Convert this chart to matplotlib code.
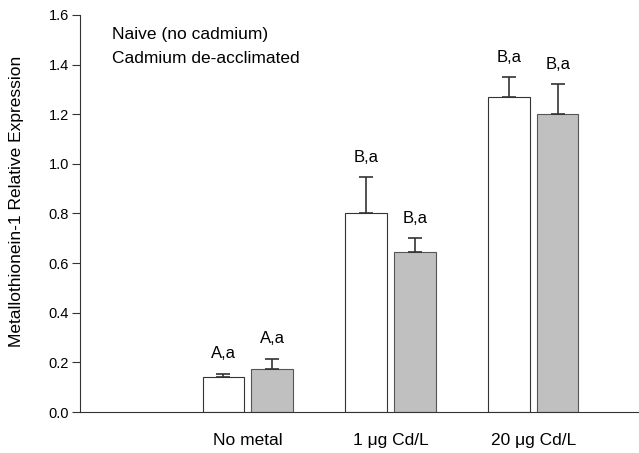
import matplotlib.pyplot as plt
import numpy as np

plt.rcParams['font.family'] = ['Liberation Sans', 'DejaVu Sans']

groups = ['No metal', '1 \u03bcg Cd/L', '20 \u03bcg Cd/L']
naive = [0.14, 0.80, 1.27]
naive_err = [0.015, 0.145, 0.08]
deacc = [0.175, 0.645, 1.20]
deacc_err = [0.04, 0.055, 0.12]
naive_lab = ['A,a', 'B,a', 'B,a']
deacc_lab = ['A,a', 'B,a', 'B,a']

fig = plt.figure(figsize=(6.39, 4.53), dpi=100)
ax = fig.add_axes([0.125, 0.0905, 0.875, 0.8765])

x = np.arange(1, len(groups) + 1)
w = 0.29
off = 0.171
ax.bar(x - off, naive, w, color='white', edgecolor='#333333', linewidth=0.8)
ax.errorbar(x - off, naive, yerr=[np.zeros(3), naive_err], fmt='none',
            ecolor='#333333', elinewidth=1.2, capsize=5, capthick=1.2)
ax.bar(x + off, deacc, w, color='#c0c0c0', edgecolor='#555555', linewidth=0.8)
ax.errorbar(x + off, deacc, yerr=[np.zeros(3), deacc_err], fmt='none',
            ecolor='#333333', elinewidth=1.2, capsize=5, capthick=1.2)

for i in range(3):
    ax.text(x[i] - off, naive[i] + naive_err[i] + 0.05, naive_lab[i],
            ha='center', va='bottom', fontsize=12)
    ax.text(x[i] + off, deacc[i] + deacc_err[i] + 0.05, deacc_lab[i],
            ha='center', va='bottom', fontsize=12)

ax.text(0.057, 0.97, 'Naive (no cadmium)', transform=ax.transAxes, fontsize=12.5, va='top')
ax.text(0.057, 0.91, 'Cadmium de-acclimated', transform=ax.transAxes, fontsize=12.5, va='top')

ax.set_xlim(-0.175, 3.74)
ax.set_ylim(0, 1.6)
ax.set_yticks(np.arange(0, 1.61, 0.2))
ax.set_yticklabels(['%.1f' % v for v in np.arange(0, 1.61, 0.2)], fontsize=10.5)
ax.set_xticks(x)
ax.set_xticklabels(groups, fontsize=12.5)
ax.tick_params(axis='x', length=0, pad=15)
ax.tick_params(axis='y', length=6, direction='out', color='#333333', pad=2)
ax.set_ylabel('Metallothionein-1 Relative Expression', fontsize=12.5)
ax.yaxis.set_label_coords(-0.1, 0.53)
ax.spines['top'].set_visible(False)
ax.spines['right'].set_visible(False)
ax.spines['left'].set_color('#333333')
ax.spines['bottom'].set_color('#333333')

plt.savefig('out.png', dpi=100)
